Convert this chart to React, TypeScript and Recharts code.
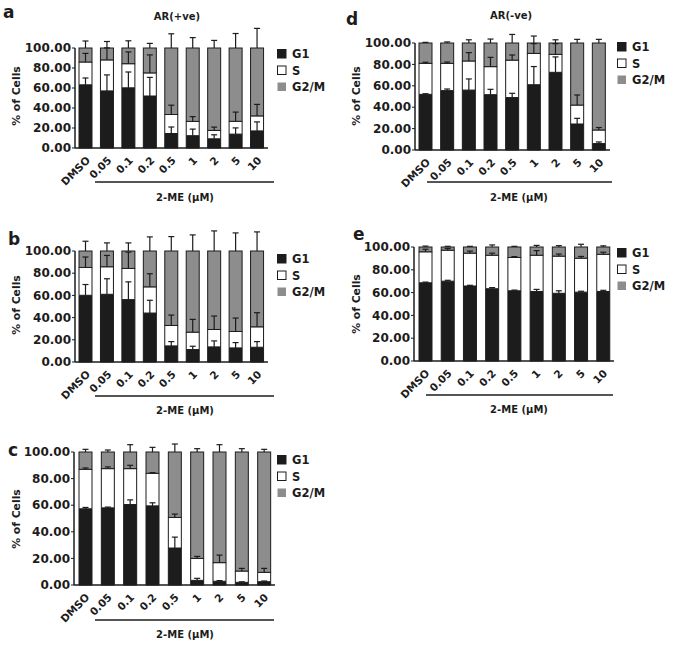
import React from 'react';
import { BarChart, Bar, XAxis, YAxis } from 'recharts';

const doses = ['DMSO', '0.05', '0.1', '0.2', '0.5', '1', '2', '5', '10'];
const yTicks = [0, 20, 40, 60, 80, 100];

// a - AR(+ve), first line
const aG1 = [63.2, 57.1, 60.2, 52.0, 14.5, 12.3, 9.2, 13.9, 17.1];
const aS = [22.8, 31.0, 24.1, 23.1, 19.0, 14.3, 8.4, 12.8, 15.0];
const aG2m = [14.0, 11.9, 15.7, 24.9, 66.5, 73.4, 82.4, 73.3, 67.9];
const aG1Err = [6.8, 16.0, 15.8, 18.6, 6.5, 6.6, 4.0, 6.2, 9.0];
const aSErr = [8.6, 12.0, 11.8, 18.0, 9.3, 4.8, 3.3, 9.2, 11.5];
const aG2mErr = [7.0, 6.5, 7.2, 4.6, 14.2, 10.4, 7.6, 14.5, 19.6];

// b - AR(+ve), second line
const bG1 = [60.1, 61.0, 56.2, 44.1, 14.5, 11.2, 13.6, 12.7, 13.3];
const bS = [25.1, 24.8, 28.1, 23.6, 18.4, 15.7, 15.7, 14.8, 18.4];
const bG2m = [14.8, 14.2, 15.7, 32.3, 67.1, 73.1, 70.7, 72.5, 68.3];
const bG1Err = [9.7, 14.0, 16.0, 11.5, 3.9, 3.0, 5.4, 4.8, 5.1];
const bSErr = [9.4, 10.2, 14.7, 11.8, 9.4, 11.5, 12.1, 12.1, 12.7];
const bG2mErr = [8.8, 7.3, 7.3, 12.7, 13.0, 14.5, 18.1, 16.3, 17.2];

// c - AR(+ve), third line
const cG1 = [57.3, 58.0, 60.5, 59.5, 27.8, 3.5, 2.8, 2.0, 2.5];
const cS = [29.7, 29.5, 27.0, 24.5, 23.0, 16.5, 14.0, 8.5, 7.0];
const cG2m = [13.0, 12.5, 12.5, 16.0, 49.2, 80.0, 83.2, 89.5, 90.5];
const cG1Err = [1.0, 0.6, 3.5, 2.3, 8.2, 1.5, 0.5, 0.4, 0.5];
const cSErr = [1.0, 1.3, 2.5, 0.5, 2.5, 1.5, 5.7, 2.0, 3.0];
const cG2mErr = [2.0, 1.5, 5.5, 3.5, 6.0, 2.5, 5.5, 2.5, 2.0];

// d - AR(-ve), first line
const dG1 = [52.0, 55.5, 56.0, 51.7, 49.0, 61.0, 72.6, 24.3, 6.0];
const dS = [29.0, 25.5, 27.2, 26.2, 35.0, 29.3, 16.8, 17.7, 12.7];
const dG2m = [19.0, 19.0, 16.8, 22.1, 16.0, 9.7, 10.6, 58.0, 81.3];
const dG1Err = [0.6, 1.5, 10.4, 5.0, 4.0, 17.0, 14.4, 5.3, 1.5];
const dSErr = [1.0, 1.2, 7.8, 8.7, 4.8, 9.1, 10.0, 9.4, 2.3];
const dG2mErr = [0.6, 1.0, 3.0, 3.7, 8.0, 6.5, 3.0, 3.4, 3.4];

// e - AR(-ve), second line
const eG1 = [68.6, 70.0, 65.8, 63.4, 61.6, 61.0, 59.4, 60.4, 61.0];
const eS = [27.2, 27.2, 28.8, 29.4, 29.2, 31.8, 32.6, 29.8, 32.6];
const eG2m = [4.2, 2.8, 5.4, 7.2, 9.2, 7.2, 8.0, 9.8, 6.4];
const eG1Err = [0.6, 0.8, 0.6, 1.0, 0.6, 1.8, 2.2, 0.8, 1.0];
const eSErr = [2.2, 1.5, 1.8, 1.8, 0.8, 4.0, 1.8, 1.5, 1.8];
const eG2mErr = [0.8, 0.6, 0.6, 1.8, 0.6, 1.4, 1.2, 2.4, 1.0];

const FONT = '"DejaVu Sans", sans-serif';
const INK = '#1c1c1c';
const GREY = '#8d8d8d';

function buildRows(g1, s, g2m, g1Err, sErr, g2mErr) {
  return doses.map((dose, i) => ({
    dose,
    g1: g1[i],
    s: s[i],
    g2m: g2m[i],
    g1Err: g1Err[i],
    sErr: sErr[i],
    g2mErr: g2mErr[i],
  }));
}

// top segment draws itself plus the (upward only) error bars of all three
// phases, so that they sit on top of the stack
function TopSegment(props: any) {
  const { x, y, width, height, payload } = props;
  const ppu = height / payload.g2m;
  const zero = y + height + (payload.g1 + payload.s) * ppu;
  const cx = x + width / 2;
  const tops = [
    [payload.g1, payload.g1Err],
    [payload.g1 + payload.s, payload.sErr],
    [payload.g1 + payload.s + payload.g2m, payload.g2mErr],
  ];
  return (
    <g>
      <rect x={x} y={y} width={width} height={height} fill={GREY} stroke={INK} strokeWidth={1} />
      {tops.map(([v, e], i) => {
        const yA = zero - v * ppu;
        const yB = zero - (v + e) * ppu;
        return (
          <g key={i}>
            <line x1={cx} x2={cx} y1={yA} y2={yB} stroke={INK} strokeWidth={1.2} />
            <line x1={cx - 3} x2={cx + 3} y1={yB} y2={yB} stroke={INK} strokeWidth={1.2} />
          </g>
        );
      })}
    </g>
  );
}

function DoseTick(props: any) {
  const { x, y, payload } = props;
  const tx = x + 5;
  const ty = y + 13;
  return (
    <text
      x={tx}
      y={ty}
      transform={`rotate(-45 ${tx} ${ty})`}
      textAnchor="end"
      fontFamily={FONT}
      fontWeight="bold"
      fontSize={10.5}
      fill={INK}
    >
      {payload.value}
    </text>
  );
}

const panels = [
  {
    letter: 'a', title: 'AR(+ve)', rows: buildRows(aG1, aS, aG2m, aG1Err, aSErr, aG2mErr),
    x0: 75, x1: 268, y0: 48, y1: 148,
    letterPos: [3, 18], titlePos: [177, 20], yLabelPos: [16, 96],
    line: [95, 274, 182], xTitlePos: [185, 201], legendPos: [277, 49],
  },
  {
    letter: 'b', title: '', rows: buildRows(bG1, bS, bG2m, bG1Err, bSErr, bG2mErr),
    x0: 75, x1: 268, y0: 251, y1: 362,
    letterPos: [8, 245], titlePos: [0, 0], yLabelPos: [16, 305],
    line: [95, 274, 396], xTitlePos: [185, 414], legendPos: [277, 254],
  },
  {
    letter: 'c', title: '', rows: buildRows(cG1, cS, cG2m, cG1Err, cSErr, cG2mErr),
    x0: 74, x1: 275, y0: 452, y1: 585,
    letterPos: [8, 456], titlePos: [0, 0], yLabelPos: [16, 519],
    line: [95, 274, 620], xTitlePos: [185, 638], legendPos: [277, 455],
  },
  {
    letter: 'd', title: 'AR(-ve)', rows: buildRows(dG1, dS, dG2m, dG1Err, dSErr, dG2mErr),
    x0: 415, x1: 610, y0: 43, y1: 150,
    letterPos: [346, 25], titlePos: [511, 18.5], yLabelPos: [356, 96],
    line: [427, 612, 182], xTitlePos: [519, 201], legendPos: [617, 42],
  },
  {
    letter: 'e', title: '', rows: buildRows(eG1, eS, eG2m, eG1Err, eSErr, eG2mErr),
    x0: 414, x1: 614, y0: 247, y1: 361,
    letterPos: [353, 240], titlePos: [0, 0], yLabelPos: [356, 304],
    line: [426, 613, 395], xTitlePos: [519, 413], legendPos: [617, 248],
  },
];

const legendItems = [
  { name: 'G1', fill: INK, stroke: INK },
  { name: 'S', fill: '#fff', stroke: INK },
  { name: 'G2/M', fill: GREY, stroke: 'none' },
];

function Panel({ p }: { p: any }) {
  const width = p.x1 - p.x0 + 75;
  const height = p.y1 - p.y0 + 70;
  return (
    <div style={{ position: 'absolute', left: p.x0 - 70, top: p.y0 - 25 }}>
      <BarChart
        width={width}
        height={height}
        data={p.rows}
        margin={{ top: 25, right: 5, bottom: 0, left: 10 }}
        barSize={13}
      >
        <XAxis
          dataKey="dose"
          interval={0}
          height={45}
          tickLine={false}
          tickSize={0}
          tickMargin={0}
          axisLine={{ stroke: INK, strokeWidth: 1.5 }}
          tick={(t) => <DoseTick {...t} />}
        />
        <YAxis
          width={60}
          domain={[0, 100]}
          ticks={yTicks}
          interval={0}
          tickFormatter={(v) => Number(v).toFixed(2)}
          tickSize={3}
          tickMargin={1}
          axisLine={{ stroke: INK, strokeWidth: 1.5 }}
          tickLine={{ stroke: INK, strokeWidth: 1 }}
          tick={{ fontFamily: FONT, fontWeight: 'bold', fontSize: 12, fill: INK }}
        />
        <Bar dataKey="g1" stackId="phase" fill={INK} stroke={INK} strokeWidth={1} isAnimationActive={false} />
        <Bar dataKey="s" stackId="phase" fill="#fff" stroke={INK} strokeWidth={1} isAnimationActive={false} />
        <Bar dataKey="g2m" stackId="phase" fill={GREY} shape={TopSegment} isAnimationActive={false} />
      </BarChart>
    </div>
  );
}

function Annotations({ p }: { p: any }) {
  const [lx, ly] = p.letterPos;
  const [yx, yy] = p.yLabelPos;
  const [l0, l1, lY] = p.line;
  const [gx, gy] = p.legendPos;
  return (
    <g fontFamily={FONT} fontWeight="bold" fill={INK}>
      <text x={lx} y={ly} fontSize={17}>{p.letter}</text>
      {p.title && (
        <text x={p.titlePos[0]} y={p.titlePos[1]} fontSize={10} textAnchor="middle">{p.title}</text>
      )}
      <text transform={`translate(${yx + 4} ${yy}) rotate(-90)`} fontSize={10.8} textAnchor="middle">% of Cells</text>
      <line x1={l0} x2={l1} y1={lY} y2={lY} stroke={INK} strokeWidth={1.3} />
      <text x={p.xTitlePos[0]} y={p.xTitlePos[1]} fontSize={10} textAnchor="middle">2-ME (µM)</text>
      {legendItems.map((it, i) => (
        <g key={it.name}>
          <rect x={gx + 0.5} y={gy + i * 16.5 + 0.5} width={8.5} height={8.5} fill={it.fill} stroke={it.stroke} strokeWidth={1} />
          <text x={gx + 15} y={gy + i * 16.5 + 9} fontSize={11.5}>{it.name}</text>
        </g>
      ))}
    </g>
  );
}

export default function App() {
  return (
    <div style={{ position: 'absolute', left: 0, top: 0, width: 673, height: 650, background: '#fff' }}>
      {panels.map((p) => (
        <Panel key={p.letter} p={p} />
      ))}
      <svg width={673} height={650} style={{ position: 'absolute', left: 0, top: 0, pointerEvents: 'none' }}>
        {panels.map((p) => (
          <Annotations key={p.letter} p={p} />
        ))}
      </svg>
    </div>
  );
}
